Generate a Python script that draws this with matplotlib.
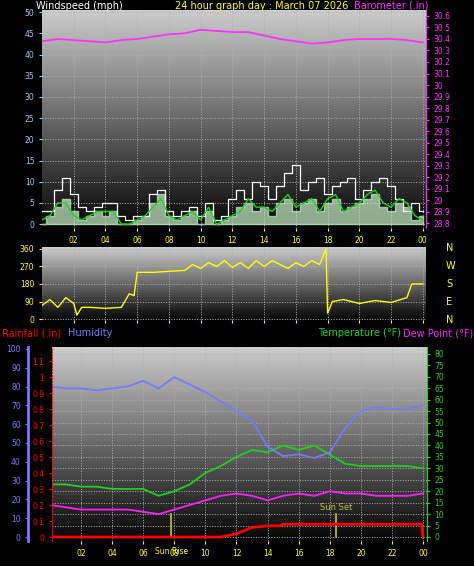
import numpy as np
import matplotlib
matplotlib.use("Agg")
import matplotlib.pyplot as plt

# ---- data ----
hours = list(range(25))
pressure = [30.38, 30.40, 30.39, 30.38, 30.37, 30.39, 30.40, 30.42, 30.44, 30.45, 30.48, 30.47, 30.46,
            30.46, 30.43, 30.40, 30.38, 30.36, 30.37, 30.39, 30.40, 30.40, 30.40, 30.39, 30.37]

half_hours = [i * 0.5 for i in range(49)]
gust = [3, 3, 8, 11, 7, 4, 3, 4, 5, 5, 2, 1, 2, 2, 7, 8, 3, 2, 3, 4, 2, 5, 1, 2, 6,
        8, 6, 10, 9, 6, 9, 12, 14, 8, 10, 11, 7, 9, 10, 11, 6, 8, 10, 11, 9, 6, 3, 5, 3]
wind_raw = [0, 2, 4, 6, 3, 1, 2, 3, 2, 3, 0, 0, 1, 2, 5, 7, 2, 1, 2, 3, 0, 3, 0, 1, 2,
            4, 5, 3, 4, 2, 5, 6, 3, 5, 6, 3, 5, 6, 3, 4, 5, 6, 7, 4, 3, 5, 4, 1, 2]
wind_avg = [1, 2, 5, 5, 2, 1, 2, 3, 3, 3, 0, 0, 1, 2, 4, 6, 2, 1, 2, 3, 1, 4, 0, 1, 2,
            3, 6, 4, 4, 3, 5, 7, 4, 5, 6, 3, 6, 7, 3, 4, 5, 7, 8, 5, 4, 6, 5, 2, 1]
dir_hours = [0, 0.5, 1, 1.5, 2, 2.2, 2.5, 3, 4, 5, 5.5, 5.8, 6, 7, 8, 9, 9.5, 10, 10.5, 11, 11.5, 12,
             12.5, 13, 13.5, 14, 14.5, 15, 15.5, 16, 16.5, 17, 17.5, 17.9, 18, 18.3, 19, 20, 21, 22, 23, 23.3, 24]
direction = [70, 100, 60, 110, 80, 20, 60, 60, 55, 60, 130, 120, 240, 240, 245, 250, 280, 260, 290, 270,
             300, 265, 290, 260, 300, 270, 300, 280, 260, 290, 270, 300, 280, 360, 30, 90, 100, 80, 95, 85, 110, 180, 180]

humidity = [80, 79, 79, 78, 79, 80, 83, 79, 85, 81, 77, 72, 67, 62, 48, 43, 44, 42, 45, 58, 67, 69, 68, 68, 70]
temperature = [23, 23, 22, 22, 21, 21, 21, 18, 20, 23, 28, 31, 35, 38, 37, 40, 38, 40, 36, 32, 31, 31, 31, 31, 30]
dewpoint = [14, 13, 12, 12, 12, 12, 11, 10, 12, 14, 16, 18, 19, 18, 16, 18, 19, 18, 20, 19, 19, 18, 18, 18, 19]
rain_hours = [0, 11, 11.5, 12, 12.5, 13, 14, 14.8, 15, 23.9, 24]
rain = [0, 0, 0.01, 0.02, 0.04, 0.06, 0.07, 0.07, 0.08, 0.08, 0]
sunrise, sunset = 7.8, 18.4
hour_ticks = [2, 4, 6, 8, 10, 12, 14, 16, 18, 20, 22, 24]
hour_labels = ["02", "04", "06", "08", "10", "12", "14", "16", "18", "20", "22", "00"]

W, H = 474, 566
fig = plt.figure(figsize=(W / 100, H / 100), dpi=100, facecolor="black")
fs = 5.5
grad = np.linspace(0.8, 0.02, 256).reshape(-1, 1)


def panel(x0, y0, x1, y1):
    ax = fig.add_axes([x0 / W, 1 - y1 / H, (x1 - x0) / W, (y1 - y0) / H])
    ax.imshow(grad, cmap="gray", vmin=0, vmax=1, aspect="auto", extent=[0, 1, 0, 1],
              transform=ax.transAxes, zorder=0)
    ax.grid(True, color="#b0b0b0", linestyle=":", linewidth=0.7)
    for s in ax.spines.values():
        s.set_visible(False)
    ax.tick_params(colors="yellow", labelsize=fs, length=2)
    return ax


# ---- top: wind + barometer ----
ax1 = panel(42, 10, 426, 228)
ax1.fill_between(half_hours, wind_raw, color="#c8f0c8", alpha=0.7, step="mid", zorder=2)
ax1.step(half_hours, gust, color="white", linewidth=0.9, where="mid", zorder=3)
ax1.plot(half_hours, wind_avg, color="#20d020", linewidth=1.0, zorder=4)
ax1.set_xlim(0, 24.2)
ax1.set_ylim(-0.9, 50.5)
ax1.set_yticks(range(0, 51, 5))
ax1.set_xticks(hour_ticks, hour_labels)
ax1.tick_params(axis="y", colors="#a0c8ff", labelcolor="#a0c8ff")
ax1b = ax1.twinx()
ax1b.plot(hours, pressure, color="#ff30ff", linewidth=1.3)
ax1b.set_ylim(28.757, 30.652)
ax1b.set_yticks(np.round(np.arange(28.8, 30.61, 0.1), 1))
ax1b.set_yticklabels([f"{v:g}" for v in np.round(np.arange(28.8, 30.61, 0.1), 1)])
ax1b.tick_params(colors="#ff30ff", labelsize=fs, length=2)
for s in ax1b.spines.values():
    s.set_visible(False)
ax1b.spines["right"].set_visible(True)
ax1b.spines["right"].set_color("#ff30ff")
fig.text(36 / W, 1 - 6 / H, "Windspeed (mph)", color="white", fontsize=7, va="center")
fig.text(175 / W, 1 - 6 / H, "24 hour graph day : March 07 2026", color="yellow", fontsize=7, va="center")
fig.text(428 / W, 1 - 6 / H, "Barometer (.in)", color="#ff30ff", fontsize=7, va="center", ha="right")

# ---- middle: wind direction ----
ax2 = panel(42, 247, 426, 320)
ax2.plot(dir_hours, direction, color="yellow", linewidth=1.0)
ax2.set_xlim(0, 24.2)
ax2.set_ylim(-5, 370)
ax2.set_yticks([0, 90, 180, 270, 360])
ax2.set_xticks(hour_ticks, [])
ax2.tick_params(axis="y", colors="yellow")
for lab, yy in zip(["N", "W", "S", "E", "N"], [248, 266, 284, 302, 320]):
    fig.text(446 / W, 1 - yy / H, lab, color="yellow", fontsize=7, va="center")

# ---- bottom: temperature / humidity / rain ----
ax3 = panel(52, 347, 427, 541)
axh = ax3.twinx()
axr = ax3.twinx()

ax3.plot(hours, temperature, color="#20d020", linewidth=1.3, zorder=4)
ax3.plot(hours, dewpoint, color="#ff20ff", linewidth=1.3, zorder=4)
ax3.set_xlim(0.14, 24.25)
ax3.set_ylim(-1.75, 83)
ax3.yaxis.tick_right()
ax3.set_yticks(range(0, 81, 5))
ax3.tick_params(axis="y", colors="#20d020", labelcolor="#20d020")
ax3.spines["right"].set_visible(True)
ax3.spines["right"].set_color("#20d020")
ax3.set_xticks(hour_ticks, hour_labels)
for x in [sunrise, sunset]:
    ax3.plot([x, x], [0, 10], color="#c8c020", linewidth=1.2, zorder=5)
ax3.text(sunrise, -4.5, "Sun Rise", color="yellow", fontsize=fs, ha="center", va="top")
ax3.text(sunset, 11, "Sun Set", color="#c8c020", fontsize=6, ha="center", va="bottom")

axh.plot(hours, humidity, color="#7878ff", linewidth=1.3)
axh.set_ylim(-2.1, 101)
axh.yaxis.tick_left()
axh.set_yticks(range(0, 101, 10))
for s in axh.spines.values():
    s.set_visible(False)
axh.spines["left"].set_visible(True)
axh.spines["left"].set_position(("outward", 17))
axh.spines["left"].set_color("#7878ff")
axh.spines["left"].set_linewidth(2)
axh.tick_params(colors="#7878ff", labelsize=fs, length=2)

axr.plot(rain_hours, rain, color="red", linewidth=2)
axr.set_ylim(-0.025, 1.19)
axr.yaxis.tick_left()
axr.set_yticks(np.round(np.arange(0, 1.11, 0.1), 1))
axr.set_yticklabels([f"{v:g}" for v in np.round(np.arange(0, 1.11, 0.1), 1)])
for s in axr.spines.values():
    s.set_visible(False)
axr.spines["left"].set_visible(True)
axr.spines["left"].set_color("red")
axr.spines["left"].set_linestyle(":")
axr.tick_params(colors="red", labelsize=fs, length=2)

fig.text(2 / W, 1 - 333 / H, "Rainfall (.in)", color="red", fontsize=7, va="center")
fig.text(68 / W, 1 - 333 / H, "Humidity", color="#7878ff", fontsize=7, va="center")
fig.text(318 / W, 1 - 333 / H, "Temperature (\u00b0F)", color="#20d020", fontsize=7, va="center")
fig.text(403 / W, 1 - 333 / H, "Dew Point (\u00b0F)", color="#ff20ff", fontsize=7, va="center")

fig.savefig("out.png", dpi=100, facecolor="black")
